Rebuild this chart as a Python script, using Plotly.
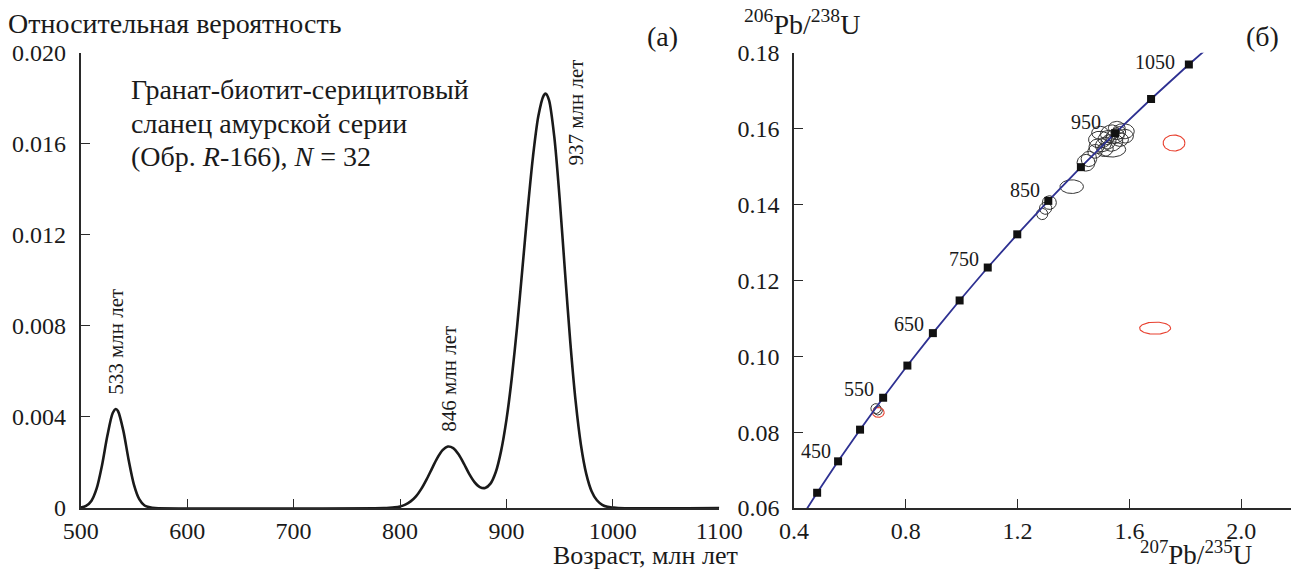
import numpy as np
import plotly.graph_objects as go

# ---------------- data: panel (a) probability density ----------------
pdp_age = [500, 505, 510, 515, 520, 525, 530, 533, 535, 540, 545, 550, 555, 560, 565, 570,
           785, 790, 795, 800, 805, 810, 815, 820, 825, 830, 835, 840, 845, 850, 855, 860,
           865, 870, 875, 880, 885, 890, 895, 900, 905, 910, 915, 920, 925, 930, 935, 937,
           940, 945, 950, 955, 960, 965, 970, 975, 980, 985, 990, 995, 1000, 1005, 1100]
pdp_val = [0.00002, 0.00009, 0.00031, 0.00086, 0.00187, 0.00316, 0.00416, 0.00435, 0.00426,
           0.00341, 0.00212, 0.00103, 0.00039, 0.00011, 0.00003, 0.0,
           0.0, 0.00001, 0.00003, 0.00007, 0.00015, 0.00029, 0.00051, 0.00084, 0.00126,
           0.00173, 0.00219, 0.00254, 0.00270, 0.00263, 0.00236, 0.00195, 0.00150, 0.00114,
           0.00092, 0.00088, 0.00107, 0.00158, 0.00251, 0.00387, 0.00570, 0.00796, 0.01051,
           0.01312, 0.01546, 0.01722, 0.01812, 0.01820, 0.01792, 0.01629, 0.01359, 0.01039,
           0.00729, 0.00469, 0.00277, 0.00150, 0.00074, 0.00034, 0.00014, 0.00005, 0.00002,
           0.0, 0.0]
peak_ages = [533, 846, 937]
peak_vals = [0.00435, 0.00273, 0.0182]

xa_ticks = [500, 600, 700, 800, 900, 1000, 1100]
ya_ticks = [0, 0.004, 0.008, 0.012, 0.016, 0.020]
ya_text = ["0", "0.004", "0.008", "0.012", "0.016", "0.020"]

# ---------------- data: panel (b) concordia ----------------
conc_age = [350, 400, 450, 500, 550, 600, 650, 700, 750, 800, 850, 900, 950, 1000, 1050, 1100]
conc_x = [0.4116, 0.4828, 0.5577, 0.6363, 0.7189, 0.8056, 0.8968, 0.9925, 1.0931, 1.1987,
          1.3097, 1.4263, 1.5488, 1.6774, 1.8126, 1.9545]
conc_y = [0.0558, 0.06402, 0.07230, 0.08065, 0.08906, 0.09754, 0.10609, 0.11470, 0.12338,
          0.13213, 0.14094, 0.14983, 0.15878, 0.16780, 0.17689, 0.18605]
label_ages = [450, 550, 650, 750, 850, 950, 1050]

# analyses (ellipses): centre, semi-axes (data units), tilt (deg)
ell_x = [0.693, 0.700,
         1.3135, 1.300, 1.288, 1.3935, 1.4447, 1.455,
         1.5367, 1.4948, 1.5782, 1.5306, 1.5067, 1.5546, 1.483, 1.5188, 1.5485, 1.5664,
         1.477, 1.4948, 1.5843, 1.5425, 1.5127, 1.525, 1.560]
ell_y = [0.0862, 0.0857,
         0.1405, 0.1390, 0.1375, 0.1447, 0.1510, 0.1520,
         0.1545, 0.1571, 0.1593, 0.1589, 0.1558, 0.1602, 0.1553, 0.1576, 0.1580, 0.1571,
         0.1540, 0.1589, 0.1580, 0.1562, 0.1545, 0.1565, 0.1588]
ell_rx = [0.018, 0.016,
          0.025, 0.022, 0.020, 0.042, 0.032, 0.028,
          0.050, 0.041, 0.039, 0.035, 0.030, 0.030, 0.028, 0.032, 0.034, 0.030,
          0.026, 0.030, 0.030, 0.036, 0.030, 0.028, 0.028]
ell_ry = [0.0013, 0.0012,
          0.0018, 0.0016, 0.0015, 0.0018, 0.0022, 0.0020,
          0.0020, 0.0022, 0.0020, 0.0020, 0.0018, 0.0017, 0.0019, 0.0018, 0.0019, 0.0018,
          0.0018, 0.0017, 0.0018, 0.0020, 0.0018, 0.0018, 0.0016]
ell_ang = [0, 30,
           0, 20, 20, 0, 0, 30,
           0, 0, 0, 20, 30, 0, 30, 25, 20, 0,
           20, 0, 0, 30, 20, 35, 30]

red_x = [0.7016, 1.7596, 1.692]
red_y = [0.0852, 0.1562, 0.1074]
red_rx = [0.021, 0.039, 0.0555]
red_ry = [0.0013, 0.0021, 0.0016]
red_ang = [0, 0, 0]

xb_ticks = [0.4, 0.8, 1.2, 1.6, 2.0]
xb_text = ["0.4", "0.8", "1.2", "1.6", "2.0"]
yb_ticks = [0.06, 0.08, 0.10, 0.12, 0.14, 0.16, 0.18]
yb_text = ["0.06", "0.08", "0.10", "0.12", "0.14", "0.16", "0.18"]

# ---------------- layout geometry ----------------
W, H = 1291, 570
XB_RANGE = [0.4, 2.178]
YB_RANGE = [0.06, 0.18]
xa_dom = [80.7 / W, 719.3 / W]
xb_dom = [794 / W, 1.0]
y_dom = [1 - 508 / H, 1 - 52.7 / H]
SX = (xb_dom[1] - xb_dom[0]) * W / (XB_RANGE[1] - XB_RANGE[0])   # px per unit
SY = (y_dom[1] - y_dom[0]) * H / (YB_RANGE[1] - YB_RANGE[0])

FONT = "Liberation Serif"
AX = "#2a2a2a"
TXT = "#1a1a1a"


def ellipse_path(xs, ys, rxs, rys, angs):
    t = np.linspace(0, 2 * np.pi, 73)
    px, py = [], []
    for cx, cy, rx, ry, a in zip(xs, ys, rxs, rys, angs):
        a = np.deg2rad(a)
        ax_, by_ = rx * SX, ry * SY
        dx = ax_ * np.cos(t) * np.cos(a) - by_ * np.sin(t) * np.sin(a)
        dy = ax_ * np.cos(t) * np.sin(a) + by_ * np.sin(t) * np.cos(a)
        px += list(cx + dx / SX) + [None]
        py += list(cy + dy / SY) + [None]
    return px, py


fig = go.Figure()

# panel (a)
fig.add_trace(go.Scatter(x=pdp_age, y=pdp_val, mode="lines",
                         line=dict(color="#1a1a1a", width=2.6, shape="spline", smoothing=0.8),
                         xaxis="x", yaxis="y", hoverinfo="skip"))

# panel (b)
ex, ey = ellipse_path(ell_x, ell_y, ell_rx, ell_ry, ell_ang)
fig.add_trace(go.Scatter(x=ex, y=ey, mode="lines", line=dict(color="#333333", width=1),
                         xaxis="x2", yaxis="y2", hoverinfo="skip"))
rx_, ry_ = ellipse_path(red_x, red_y, red_rx, red_ry, red_ang)
fig.add_trace(go.Scatter(x=rx_, y=ry_, mode="lines", line=dict(color="#e8402f", width=1.1),
                         xaxis="x2", yaxis="y2", hoverinfo="skip"))
fig.add_trace(go.Scatter(x=conc_x, y=conc_y, mode="lines",
                         line=dict(color="#2e3192", width=1.8),
                         xaxis="x2", yaxis="y2", hoverinfo="skip"))
mk = [i for i, a in enumerate(conc_age) if 400 <= a <= 1050]
fig.add_trace(go.Scatter(x=[conc_x[i] for i in mk], y=[conc_y[i] for i in mk], mode="markers",
                         marker=dict(symbol="square", size=8, color="#111111"),
                         xaxis="x2", yaxis="y2", hoverinfo="skip", cliponaxis=False))

axis_common = dict(showline=True, linecolor=AX, linewidth=1.6, ticks="inside", ticklen=9,
                   tickwidth=1.4, tickcolor=AX, showgrid=False, zeroline=False,
                   automargin=False,
                   tickfont=dict(family=FONT, size=24, color=TXT))

fig.update_layout(
    width=W, height=H, margin=dict(l=0, r=0, t=0, b=0, autoexpand=False),
    paper_bgcolor="white", plot_bgcolor="white", showlegend=False,
    font=dict(family=FONT, color=TXT),
    xaxis=dict(domain=xa_dom, range=[500, 1100], tickvals=xa_ticks, anchor="y",
               ticklabelstandoff=0, **axis_common),
    yaxis=dict(domain=y_dom, range=[0, 0.020], tickvals=ya_ticks, ticktext=ya_text, anchor="x",
               ticklabelstandoff=8, **axis_common),
    xaxis2=dict(domain=xb_dom, range=XB_RANGE, tickvals=xb_ticks, ticktext=xb_text, anchor="y2",
                ticklabelstandoff=0, **axis_common),
    yaxis2=dict(domain=y_dom, range=YB_RANGE, tickvals=yb_ticks, ticktext=yb_text, anchor="x2",
                ticklabelstandoff=8, **axis_common),
)


def ann_px(text, x, y, size=28, xanchor="center", yanchor="middle", angle=0):
    fig.add_annotation(text=text, x=x / W, y=1 - y / H, xref="paper", yref="paper",
                       showarrow=False, xanchor=xanchor, yanchor=yanchor, textangle=angle,
                       font=dict(family=FONT, size=size, color=TXT))


ann_px("Относительная вероятность", 6, 23, xanchor="left")
ann_px("(а)", 662, 37)
ann_px("(б)", 1262, 37)
ann_px("Гранат-биотит-серицитовый", 129, 89, xanchor="left")
ann_px("сланец амурской серии", 129, 123, xanchor="left")
ann_px("(Обр. <i>R</i>-166), <i>N</i> = 32", 129, 157, xanchor="left")
ann_px("Возраст, млн лет", 645, 555, size=26)
ann_px("<sup>207</sup>Pb/<sup>235</sup>U", 1254, 553, size=27, xanchor="right")
ann_px("<sup>206</sup>Pb/<sup>238</sup>U", 742, 22, xanchor="left")

# rotated peak labels (anchored above each peak)
label_shift = {533: (0, 12, "bottom"), 846: (0, 12, "bottom"), 937: (30, 36, "top")}
for age, val in zip(peak_ages, peak_vals):
    dx, dy, ya = label_shift[age]
    fig.add_annotation(text=f"{age} млн лет", x=age, y=val, xref="x", yref="y",
                       showarrow=False, textangle=-90, xanchor="center", yanchor=ya,
                       xshift=dx, yshift=dy, font=dict(family=FONT, size=21, color=TXT))

# concordia age labels
shifts = {450: (-5, 10), 550: (-7, 9), 650: (-7, 9), 750: (-7, 9), 850: (-6, 11),
          950: (-12, 11), 1050: (-12, 3)}
for a in label_ages:
    i = conc_age.index(a)
    dx, dy = shifts[a]
    fig.add_annotation(text=str(a), x=conc_x[i], y=conc_y[i], xref="x2", yref="y2",
                       showarrow=False, xanchor="right", yanchor="middle", xshift=dx, yshift=dy,
                       font=dict(family=FONT, size=20, color=TXT))

fig.write_html("out.html", config={"displayModeBar": False},
               post_script="document.body.style.margin='0px';"
                           "document.body.style.overflow='hidden';")
